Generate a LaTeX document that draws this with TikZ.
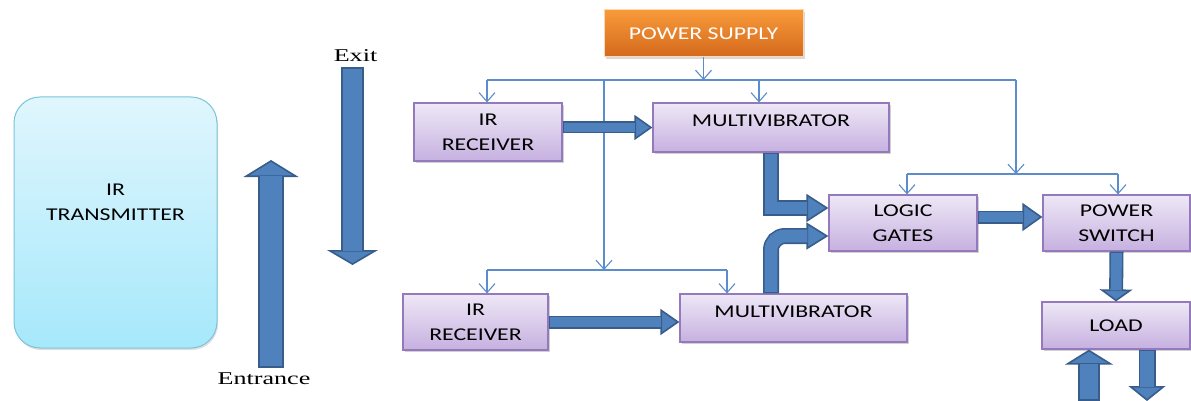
\documentclass[tikz,border=0pt]{standalone}
\usepackage{fontspec}
\setmainfont{Liberation Serif}[FakeStretch=1.45]
\newfontfamily\boxfont{Carlito}[FakeStretch=1.32]
\usetikzlibrary{arrows.meta, positioning, shadows}
\definecolor{lavtop}{HTML}{EEE8F6}
\definecolor{lavbot}{HTML}{C6B0E0}
\definecolor{lavline}{HTML}{9479BC}
\definecolor{skytop}{HTML}{E0F6FD}
\definecolor{skybot}{HTML}{A6E8FB}
\definecolor{skyline}{HTML}{7CC4D8}
\definecolor{orgtop}{HTML}{F89A3A}
\definecolor{orgbot}{HTML}{D4691C}
\definecolor{wirecol}{HTML}{5B8CCB}
\definecolor{arrowfill}{HTML}{4F81BD}
\definecolor{arrowline}{HTML}{385D8A}
\tikzset{
  blockbox/.style={rectangle, draw=lavline, line width=1.2pt, top color=lavtop, bottom color=lavbot,
    general shadow={fill=black, opacity=0.18, shadow xshift=1.5pt, shadow yshift=-2pt},
    font=\boxfont\fontsize{18}{25}\selectfont, align=center, inner sep=2pt},
  mvbox/.style={blockbox, text height=13pt, text depth=14pt},
  txbox/.style={rectangle, rounded corners=26pt, draw=skyline, line width=1pt, top color=skytop,
    bottom color=skybot, font=\boxfont\fontsize{18}{25}\selectfont, align=center, text depth=41pt,
    general shadow={fill=black, opacity=0.12, shadow xshift=1pt, shadow yshift=-2pt}},
  psbox/.style={rectangle, draw=orgtop!40, line width=1pt, top color=orgtop, bottom color=orgbot,
    general shadow={fill=black, opacity=0.15, shadow xshift=1.5pt, shadow yshift=-2pt},
    text=white, font=\boxfont\fontsize{18}{25}\selectfont, align=center},
  wire/.style={draw=wirecol, line width=1.1pt},
  wirearr/.style={-{Straight Barb[length=9pt,width=16pt]}},
  lbl/.style={font=\fontsize{18}{22}\selectfont, inner sep=0pt},
}
% shaft width, head width, head length, path
\newcommand{\BA}[4]{%
  \draw[line width=#1pt, draw=arrowline, -{Triangle[length=#3pt,width=#2pt,line width=1.6pt,fill=arrowfill]}] #4;
  \draw[line width=#1pt-3.2pt, draw=arrowfill, shorten <=1.6pt, shorten >=#3pt-1pt] #4;
}

\begin{document}
\begin{tikzpicture}[x=1pt, y=-1pt]
\useasboundingbox (0,0) rectangle (1191,401);

\node[txbox, minimum width=203pt, minimum height=251pt] (tx) at (115.5,222.5) {IR\\TRANSMITTER};
\node[psbox, minimum width=199pt, minimum height=47pt] (ps) at (703.5,33.5) {POWER SUPPLY};

\node[blockbox, minimum width=148pt, minimum height=58pt] (ir1) at (488,132) {IR\\RECEIVER};
\node[mvbox, minimum width=236pt, minimum height=49pt] (mv1) at (771,127.5) {MULTIVIBRATOR};
\node[blockbox, minimum width=148pt, minimum height=56pt] (lg) at (903,223) {LOGIC\\GATES};
\node[blockbox, minimum width=147pt, minimum height=56pt] (psw) at (1116.5,223) {POWER\\SWITCH};
\node[blockbox, minimum width=145pt, minimum height=56pt] (ir2) at (475.5,322) {IR\\RECEIVER};
\node[mvbox, minimum width=227pt, minimum height=48pt] (mv2) at (793.5,318) {MULTIVIBRATOR};
\node[blockbox, minimum width=148pt, minimum height=47pt] (load) at (1116,325.5) {LOAD};

% gate arrows
\coordinate (enttop) at (271,160);
\coordinate (entbot) at (271,368);
\coordinate (exittop) at (352.5,67);
\coordinate (exitbot) at (352.5,265);
\node[lbl, below=5pt of entbot, xshift=-7pt] (entlbl) {Entrance};
\node[lbl, above=5pt of exittop, xshift=3pt] (exitlbl) {Exit};

% supply wiring
\coordinate (busL) at (487,80);
\coordinate (busM) at (604,80);
\coordinate (busV) at (759,80);
\coordinate (busR) at (1016,80);
\coordinate (subL) at (487,270);
\coordinate (subM) at (604,270);
\coordinate (subR) at (727,270);
\coordinate (gateL) at (907,174);
\coordinate (gateM) at (1016,174);
\coordinate (gateR) at (1118,174);
\coordinate (inbot) at (1089,401);
\coordinate (outbot) at (1147,401);

\draw[wire] (busL) -- (busR);
\draw[wire, wirearr] (ps.south) -- (ps.south |- busL);
\draw[wire, wirearr] (busL) -- (busL |- ir1.north);
\draw[wire, wirearr] (busV) -- (busV |- mv1.north);
\draw[wire, wirearr] (busR) -- (gateM);
\draw[wire] (gateL) -- (gateR);
\draw[wire, wirearr] (gateL) -- (gateL |- lg.north);
\draw[wire, wirearr] (gateR) -- (gateR |- psw.north);
\draw[wire, wirearr] (busM) -- (subM);
\draw[wire] (subL) -- (subR);
\draw[wire, wirearr] (subL) -- (subL |- ir2.north);
\draw[wire, wirearr] (subR) -- (subR |- mv2.north);

% block arrows
\BA{26}{55}{17}{(entbot) -- (enttop)}
\BA{23}{51}{15}{(exittop) -- (exitbot)}
\BA{12}{25}{18}{(ir1.east |- mv1.west) -- (mv1.west)}
\BA{13}{26}{19}{(ir2.east) -- (ir2.east -| mv2.west)}
\BA{16}{28}{22}{(mv1.south) |- ([yshift=15pt]lg.west)}
\begin{scope}[rounded corners=14pt]
\BA{16}{27}{22}{(mv2.north -| mv1.south) |- ([yshift=-13pt]lg.west)}
\end{scope}
\BA{13}{28}{20}{([yshift=6pt]lg.east) -- ([yshift=6pt]psw.west)}
\BA{14}{33}{12}{(psw.south) -- (load.north)}
\BA{22}{48}{15}{(inbot) -- (inbot |- load.south)}
\BA{17}{37}{15}{(outbot |- load.south) -- (outbot)}

\end{tikzpicture}
\end{document}
